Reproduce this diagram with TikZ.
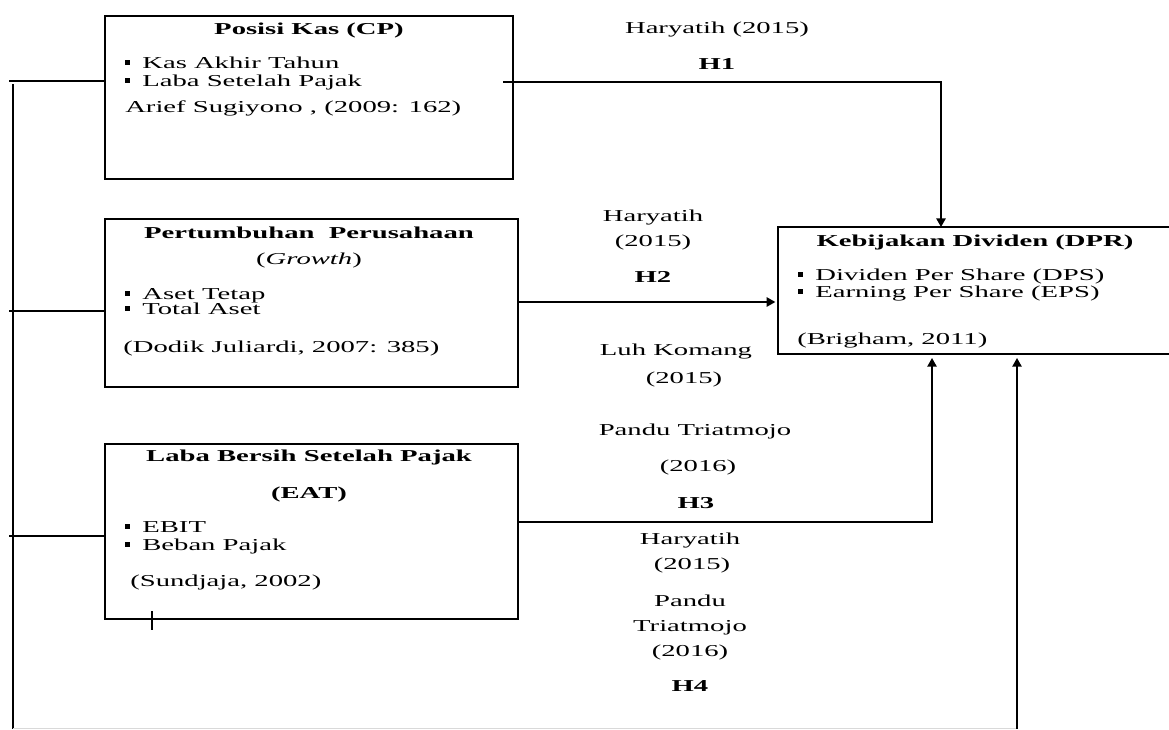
\documentclass[tikz,border=0pt]{standalone}
\usepackage{fontspec}
\setmainfont{Liberation Serif}[FakeStretch=1.72]
\usetikzlibrary{arrows.meta}
\newcommand\bul{\rule[3pt]{3.8pt}{3.8pt}\hspace{9pt}}
\begin{document}
\begin{tikzpicture}[x=0.75pt,y=-0.75pt,
  box/.style={draw, line width=1.7pt, inner sep=0pt, outer sep=0pt},
  conn/.style={line width=1.2pt},
  arr/.style={conn,-{Triangle[length=6.5pt,width=7pt]}},
  txt/.style={inner sep=0pt, text height=9pt, text depth=2pt, font=\fontsize{12.5}{14}\selectfont},
  ttl/.style={txt, font=\fontsize{12.5}{14}\selectfont\bfseries},
]
\useasboundingbox (0,0) rectangle (1169,729);
\fill[white] (0,0) rectangle (1169,729);
\clip (0,0) rectangle (1169,729);

% boxes
\node[box, minimum width=306pt, minimum height=122.25pt] (cp) at (309,97.5) {};
\node[box, minimum width=309.75pt, minimum height=126pt] (gr) at (311.5,303) {};
\node[box, minimum width=309.75pt, minimum height=131.25pt] (eat) at (311.5,531.5) {};
\node[box, minimum width=300pt, minimum height=95.25pt] (dpr) at (978,290.5) {};

% box 1 text
\node[ttl] (cpT) at (309,30) {Posisi Kas (CP)};
\node[txt,anchor=west] (cpA) at (125,64) {\bul Kas Akhir Tahun};
\node[txt,anchor=west] (cpB) at (125,82) {\bul Laba Setelah Pajak};
\node[txt,anchor=west] (cpC) at (125,108) {Arief Sugiyono , (2009: 162)};

% box 2 text
\node[ttl] (grT) at (309,234) {Pertumbuhan\ \ Perusahaan};
\node[txt] (grT2) at (309,260) {(\textit{Growth})};
\node[txt,anchor=west] (grA) at (125,295) {\bul Aset Tetap};
\node[txt,anchor=west] (grB) at (125,310) {\bul Total Aset};
\node[txt,anchor=west] (grC) at (123,348) {(Dodik Juliardi, 2007: 385)};

% box 3 text
\node[ttl] (eatT) at (309,457) {Laba Bersih Setelah Pajak};
\node[ttl] (eatT2) at (309,494) {(EAT)};
\node[txt,anchor=west] (eatA) at (125,528) {\bul EBIT};
\node[txt,anchor=west] (eatB) at (125,546) {\bul Beban Pajak};
\node[txt,anchor=west] (eatC) at (130,582) {(Sundjaja, 2002)};

% DPR box text
\node[ttl] (dprT) at (975,242) {Kebijakan Dividen (DPR)};
\node[txt,anchor=west] (dprA) at (798,276) {\bul Dividen Per Share (DPS)};
\node[txt,anchor=west] (dprB) at (798,293) {\bul Earning Per Share (EPS)};
\node[txt,anchor=west] (dprC) at (797,340) {(Brigham, 2011)};

% labels
\node[txt] (l1a) at (717,29) {Haryatih (2015)};
\node[ttl] (l1b) at (717,65) {H1};
\node[txt] (l2a) at (653,217) {Haryatih};
\node[txt] (l2b) at (653,242) {(2015)};
\node[ttl] (l2c) at (653,278) {H2};
\node[txt] (l3a) at (676,351) {Luh Komang};
\node[txt] (l3b) at (684,379) {(2015)};
\node[txt] (l4a) at (695,431) {Pandu Triatmojo};
\node[txt] (l4b) at (698,467) {(2016)};
\node[ttl] (l4c) at (696,504) {H3};
\node[txt] (l5a) at (690,540) {Haryatih};
\node[txt] (l5b) at (692,565) {(2015)};
\node[txt] (l5c) at (690,602) {Pandu};
\node[txt] (l5d) at (690,627) {Triatmojo};
\node[txt] (l5e) at (690,652) {(2016)};
\node[ttl] (l5f) at (690,687) {H4};

% connector coordinates
\coordinate (s1) at (9,81);
\coordinate (s2) at (9,311);
\coordinate (s3) at (9,536);
\coordinate (t0) at (13,84);
\coordinate (t1) at (13,728.5);
\coordinate (t2) at (1017,728.5);
\coordinate (h1a) at (503,82);
\coordinate (h1b) at (941,82);
\coordinate (h2) at (600,302);
\coordinate (h3) at (932,522);
\coordinate (tk1) at (152,611);
\coordinate (tk2) at (152,630);

% connectors
\draw[conn] (s1) -- (s1 -| cp.west);
\draw[conn] (s2) -- (s2 -| gr.west);
\draw[conn] (s3) -- (s3 -| eat.west);
\draw[conn] (t0) -- (t1);
\draw[conn, gray!30] (t1) -- (t2);
\draw[arr, shorten >=3pt] (t2) -- (t2 |- dpr.south);
\draw[arr] (h1a) -- (h1b) -- (h1b |- dpr.north);
\draw[arr, shorten >=2pt] (h2 -| gr.east) -- (h2 -| dpr.west);
\draw[arr, shorten >=3pt] (h3 -| eat.east) -- (h3) -- (h3 |- dpr.south);
\draw[conn] (tk1) -- (tk2);
\end{tikzpicture}
\end{document}
